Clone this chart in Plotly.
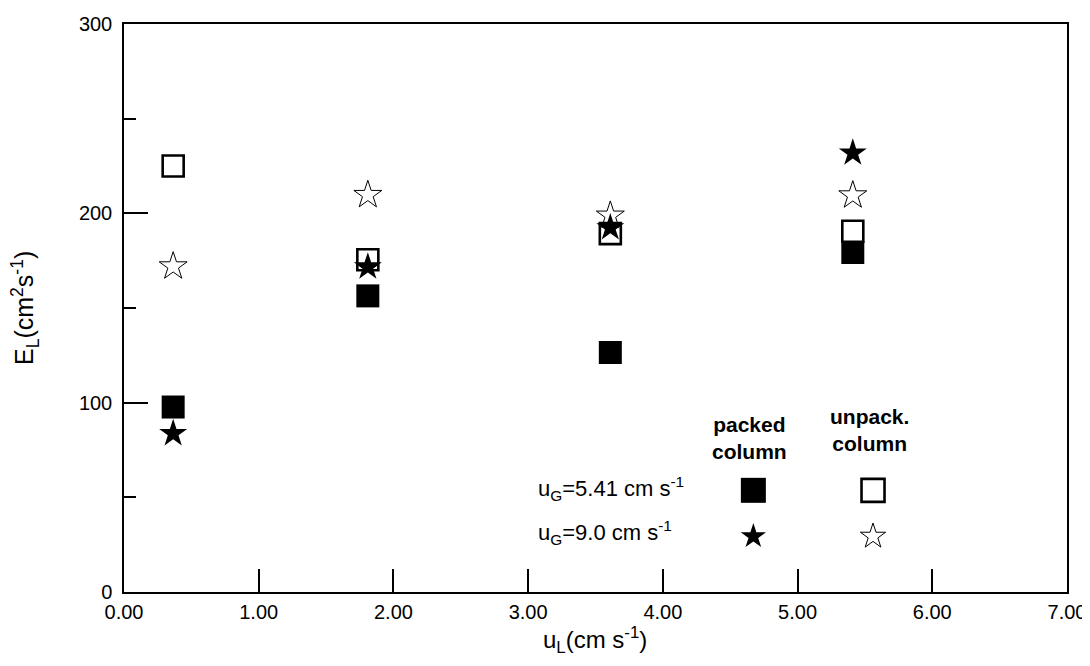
import plotly.graph_objects as go

# ---- data ----
u_L = [0.365, 1.81, 3.61, 5.41]
packed_541 = [97.7, 156.4, 126.5, 179.3]      # filled squares
unpacked_541 = [225.0, 175.5, 189.3, 190.5]   # open squares
packed_90 = [83.7, 171.7, 192.4, 231.9]       # filled stars
unpacked_90 = [172.0, 209.7, 198.8, 209.5]    # open stars

x_tick_vals = [0, 1, 2, 3, 4, 5, 6, 7]
x_tick_text = ["0.00", "1.00", "2.00", "3.00", "4.00", "5.00", "6.00", "7.00"]
y_tick_vals = [0, 100, 200, 300]
y_tick_text = ["0", "100", "200", "300"]

legend_rows = ["u<sub>G</sub>=5.41 cm s<sup>-1</sup>", "u<sub>G</sub>=9.0 cm s<sup>-1</sup>"]
legend_cols = ["packed<br>column", "unpack.<br>column"]

FONT = "Arial, 'Liberation Sans', sans-serif"

fig = go.Figure()

def add(x, y, symbol, size, lw, name, xaxis="x", yaxis="y"):
    fig.add_trace(go.Scatter(
        x=x, y=y, mode="markers", name=name, xaxis=xaxis, yaxis=yaxis,
        marker=dict(symbol=symbol, size=size, color="black",
                    line=dict(color="black", width=lw)),
        showlegend=False, cliponaxis=False, hoverinfo="x+y"))

add(u_L, unpacked_541, "square-open", 21, 2.6, "unpacked 5.41")
add(u_L, packed_541, "square", 23, 0, "packed 5.41")
add(u_L, unpacked_90, "star-open", 21, 1, "unpacked 9.0")
add(u_L, packed_90, "star", 21, 0, "packed 9.0")

# legend keys drawn on a hidden overlay axis (fractions of the plot area)
key_x = [0.6674, 0.7943]
key_y = [0.179, 0.098]
add([key_x[0]], [key_y[0]], "square", 25, 0, "key packed 5.41", "x2", "y2")
add([key_x[1]], [key_y[0]], "square-open", 23, 2.6, "key unpacked 5.41", "x2", "y2")
add([key_x[0]], [key_y[1]], "star", 19, 0, "key packed 9.0", "x2", "y2")
add([key_x[1]], [key_y[1]], "star-open", 19, 1, "key unpacked 9.0", "x2", "y2")

axis_common = dict(showline=True, linecolor="black", linewidth=1.5, mirror=True,
                   showgrid=False, zeroline=False, ticks="inside",
                   tickcolor="black", tickwidth=1.5, ticklabeloverflow="allow",
                   tickfont=dict(family=FONT, size=20, color="black"))

# the page body adds an 8px margin, so the figure is sized to fit the window
fig.update_layout(
    width=1082, height=650,
    margin=dict(l=116, r=23, t=16, b=66),
    paper_bgcolor="white", plot_bgcolor="white",
    font=dict(family=FONT, color="black"),
    xaxis=dict(range=[0, 7], tickvals=x_tick_vals, ticktext=x_tick_text,
               ticklen=23, ticklabelstandoff=1, automargin=False, **axis_common),
    yaxis=dict(range=[0, 300], tickvals=y_tick_vals, ticktext=y_tick_text,
               ticklen=24, ticklabelstandoff=6, automargin=False,
               minor=dict(tickvals=[50, 150, 250], ticks="inside", ticklen=12,
                          tickcolor="black", tickwidth=1.5),
               **axis_common),
    xaxis2=dict(range=[0, 1], overlaying="x", visible=False),
    yaxis2=dict(range=[0, 1], overlaying="y", visible=False),
)

ann = [
    dict(text="u<sub>L</sub>(cm s<sup>-1</sup>)", x=0.4995, y=-0.084,
         xanchor="center", yanchor="middle", font=dict(size=24)),
    dict(text="E<sub>L</sub>(cm<sup>2</sup>s<sup>-1</sup>)", x=-0.105, y=0.5,
         xanchor="center", yanchor="middle", textangle=-90, font=dict(size=25)),
    dict(text=legend_rows[0], x=0.4369, y=0.183, xanchor="left", yanchor="middle",
         font=dict(size=22)),
    dict(text=legend_rows[1], x=0.4369, y=0.104, xanchor="left", yanchor="middle",
         font=dict(size=22)),
    dict(text="<b>" + legend_cols[0] + "</b>", x=0.6628, y=0.271,
         xanchor="center", yanchor="middle", font=dict(size=21)),
    dict(text="<b>" + legend_cols[1] + "</b>", x=0.791, y=0.286,
         xanchor="center", yanchor="middle", font=dict(size=21)),
]
for a in ann:
    a.update(xref="paper", yref="paper", showarrow=False)
    a["font"].update(family=FONT, color="black")
fig.update_layout(annotations=ann)

fig.write_html("out.html")
